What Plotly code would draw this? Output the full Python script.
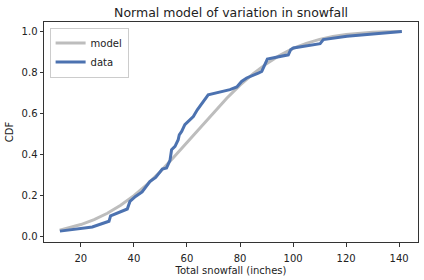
import plotly.graph_objects as go

model_x = [12, 15, 20, 25, 30, 35, 40, 45, 50, 55, 60, 65, 70, 75, 80, 85, 90,
           95, 100, 105, 110, 115, 120, 125, 130, 135, 141]
model_y = [0.029, 0.038, 0.056, 0.080, 0.111, 0.150, 0.197, 0.252, 0.315, 0.384,
           0.456, 0.530, 0.602, 0.672, 0.736, 0.792, 0.841, 0.882, 0.915, 0.940,
           0.959, 0.973, 0.983, 0.989, 0.9935, 0.996, 0.998]

data_x = [12.1, 24.3, 30.6, 31.2, 37.5, 38.5, 40.6, 43.1, 46.0, 48.2, 50.7, 52.3,
          53.6, 54.2, 55.5, 56.7, 57.1, 58.0, 59.2, 60.9, 62.4, 63.9, 68.0, 76.2,
          78.8, 80.6, 82.5, 86.9, 88.2, 90.3, 98.2, 99.1, 100.1, 110.2, 111.4,
          120.3, 130.3, 141.0]
data_y = [0.024, 0.044, 0.072, 0.099, 0.132, 0.169, 0.193, 0.215, 0.266, 0.286,
          0.327, 0.332, 0.369, 0.421, 0.437, 0.470, 0.494, 0.510, 0.543, 0.567,
          0.583, 0.616, 0.689, 0.714, 0.727, 0.754, 0.771, 0.795, 0.803, 0.863,
          0.884, 0.909, 0.917, 0.938, 0.958, 0.974, 0.985, 0.998]

x_ticks = [20, 40, 60, 80, 100, 120, 140]
y_ticks = [0.0, 0.2, 0.4, 0.6, 0.8, 1.0]

fig = go.Figure()
fig.add_trace(go.Scatter(x=model_x, y=model_y, mode="lines", name="model",
                         line=dict(color="#bdbdbd", width=3)))
fig.add_trace(go.Scatter(x=data_x, y=data_y, mode="lines", name="data",
                         line=dict(color="#4c72b0", width=3)))

axis_common = dict(showgrid=False, zeroline=False, showline=True, linecolor="#333333",
                   linewidth=1, mirror=True, ticks="outside", ticklen=3.5,
                   tickcolor="#333333", tickfont=dict(size=10, color="#222222"))

fig.update_layout(
    width=424, height=280,
    margin=dict(l=44, r=6, t=22, b=38),
    paper_bgcolor="white", plot_bgcolor="white",
    font=dict(family="DejaVu Sans", color="#222222"),
    title=dict(text="Normal model of variation in snowfall", x=0.545, xanchor="center",
               y=0.955, yanchor="middle", font=dict(size=12.5)),
    xaxis=dict(range=[6.1, 147.1], tickvals=x_ticks, ticklabelstandoff=3,
               title=dict(text="Total snowfall (inches)", font=dict(size=10), standoff=4),
               **axis_common),
    yaxis=dict(range=[-0.029, 1.044], tickvals=y_ticks, tickformat=".1f",
               title=dict(text="CDF", font=dict(size=10), standoff=6),
               **axis_common),
    legend=dict(x=0.015, y=0.975, xanchor="left", yanchor="top",
                bgcolor="white", bordercolor="#cccccc", borderwidth=1,
                font=dict(size=10), itemwidth=30, tracegroupgap=0),
    showlegend=True,
)

fig.write_html("out.html")
